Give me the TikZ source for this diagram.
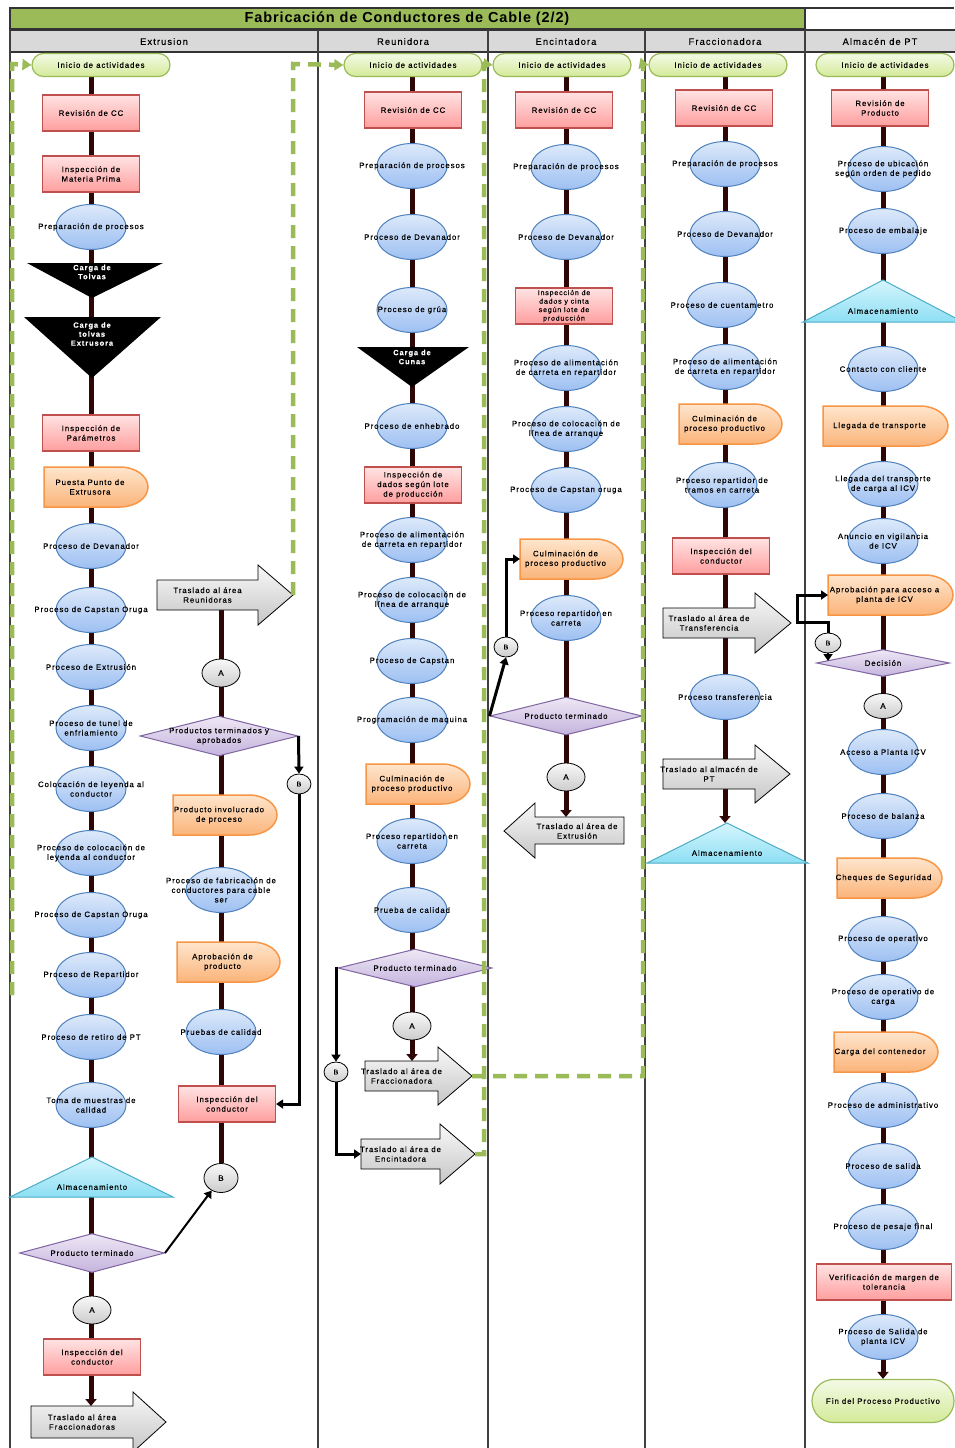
\documentclass[tikz,border=0pt]{standalone}
\usepackage{fontspec}
\setmainfont{Liberation Sans}
\newfontfamily\lsf[LetterSpace=12,FakeBold=0.3]{Liberation Sans}
\newfontfamily\lsft[LetterSpace=6]{Liberation Sans}
\usetikzlibrary{shapes.geometric,shapes.misc,arrows.meta,backgrounds}
\definecolor{grn}{HTML}{9BBB59}
\definecolor{hdr}{HTML}{D9D9D9}
\definecolor{rectB}{HTML}{C0504D}
\definecolor{rectT}{HTML}{FFE3E3}
\definecolor{rectBt}{HTML}{FF9E9E}
\definecolor{ellB}{HTML}{4F81BD}
\definecolor{ellT}{HTML}{DDE9FA}
\definecolor{ellBt}{HTML}{9DC0F2}
\definecolor{orB}{HTML}{F79646}
\definecolor{orT}{HTML}{FEE5CC}
\definecolor{orBt}{HTML}{FBB47A}
\definecolor{dmB}{HTML}{8064A2}
\definecolor{dmT}{HTML}{EEE8F5}
\definecolor{dmBt}{HTML}{C4B3DD}
\definecolor{trB}{HTML}{4BACC6}
\definecolor{trT}{HTML}{D6F5FD}
\definecolor{trBt}{HTML}{8DDFF4}
\definecolor{stT}{HTML}{F4FAE6}
\definecolor{stBt}{HTML}{D3EA98}
\definecolor{spC}{HTML}{2E0606}
\tikzset{
  tfont/.style={font={\lsf\fontsize{7.8}{9.6}\selectfont}, align=center},
  txt/.style={tfont, inner sep=0pt, text=black},
  wtxt/.style={font={\lsf\bfseries\fontsize{7.5}{9}\selectfont}, align=center, inner sep=0pt, text=white},
  rbox/.style={rectangle, tfont, draw=rectB, line width=1.2pt, top color=rectT, bottom color=rectBt, minimum width=97pt, minimum height=36pt, inner sep=1pt},
  pell/.style={ellipse, draw=ellB, line width=1pt, top color=ellT, bottom color=ellBt, minimum width=70pt, minimum height=45pt, inner sep=0pt},
  dly/.style={draw=orB, line width=1.5pt, top color=orT, bottom color=orBt},
  sbox/.style={rounded rectangle, tfont, draw=grn, line width=1.2pt, top color=stT, bottom color=stBt, minimum width=138pt, minimum height=23pt, inner sep=0pt},
  dmd/.style={diamond, draw=dmB, line width=1pt, top color=dmT, bottom color=dmBt, inner sep=0pt},
  cnx/.style={ellipse, draw=black, line width=0.8pt, top color=gray!5, bottom color=gray!40, minimum width=38pt, minimum height=28pt, inner sep=0pt, font={\lsf\fontsize{8}{9}\selectfont}},
  cnxs/.style={cnx, minimum width=24pt, minimum height=20pt, font={\lsf\fontsize{7}{8}\selectfont}},
  spine/.style={draw=spC, line width=5pt},
  spinea/.style={spine, -{Triangle[length=7pt,width=11pt]}},
  flow/.style={draw=black, line width=3pt, -{Triangle[length=7pt,width=9pt]}},
  gdash/.style={draw=grn, line width=4.5pt, dash pattern=on 13pt off 8pt, -{Triangle[length=9pt,width=11pt]}},
  garr/.style={draw=black, line width=0.8pt, top color=gray!5, bottom color=gray!45},
  tri/.style={draw=trB, line width=1pt, top color=trT, bottom color=trBt},
  lane/.style={draw=black!75, line width=1.2pt},
  hfont/.style={font={\lsf\fontsize{9.3}{11}\selectfont}},
}
% ellipse process: name, x, y, text
\newcommand\PE[4]{\node[pell] (#1) at (#2,#3) {}; \node[txt] (#1t) at (#1) {#4};}
% diamond: name, x, y, w, h, text
\newcommand\DM[6]{\node[dmd, minimum width=#4pt, minimum height=#5pt] (#1) at (#2,#3) {}; \node[txt] (#1t) at (#1) {#6};}
% delay shape: name, x left, x right, y centre, text
\newcommand\DL[5]{\path[dly] (#2,#4-20) -- ({#3-28},#4-20) arc[start angle=-90,end angle=90,x radius=28,y radius=20] -- (#2,#4+20) -- cycle;
  \node[txt] (#1) at ({(#2+#3)/2-6},#4) {#5};
  \coordinate (#1w) at (#2,#4);}
% right gray arrow: name, x tail, x head base, x tip, y centre, body half, head half, text
\newcommand\GAR[8]{\path[garr] (#2,#5-#6) -- (#3,#5-#6) -- (#3,#5-#7) -- (#4,#5) -- (#3,#5+#7) -- (#3,#5+#6) -- (#2,#5+#6) -- cycle;
  \node[txt] (#1) at ({(#2+#3)/2},#5) {#8};
  \coordinate (#1tip) at (#4,#5);
  \coordinate (#1w) at (#2,#5);
  \coordinate (#1top) at (#2,#5-#6);
  \coordinate (#1bot) at (#2,#5+#6);}
\begin{document}
\begin{tikzpicture}[x=1pt,y=-1pt]
\useasboundingbox (0,0) rectangle (954,1448);
\begin{scope}[on background layer]
\fill[white] (0,0) rectangle (954,1448);
\end{scope}
% title and headers
\path[fill=grn, draw=black!80, line width=1.2pt] (10,8) rectangle (805,29);
\draw[black!80, line width=1.2pt] (805,8) -- (954,8);
\node[font={\lsft\bfseries\fontsize{14.5}{16}\selectfont}] (title) at (407,18.5) {Fabricación de Conductores de Cable (2/2)};
\path[fill=hdr, draw=black!80, line width=1.2pt] (10,30) rectangle (956,52);
\foreach \lx in {10,318,488,645,805} {\draw[lane] (\lx,30) -- (\lx,1448);}
\node[hfont] (h1) at (164,41.5) {Extrusion};
\node[hfont] (h2) at (403,41.5) {Reunidora};
\node[hfont] (h3) at (566,41.5) {Encintadora};
\node[hfont] (h4) at (725,41.5) {Fraccionadora};
\node[hfont] (h5) at (880,41.5) {Almacén de PT};

% ---------------- Extrusion -----------------
\node[sbox] (x1) at (101,65) {Inicio de actividades};
\node[rbox] (x2) at (91,113) {Revisión de CC};
\node[rbox] (x3) at (91,174) {Inspección de\\Materia Prima};
\PE{x4}{91}{227}{Preparación de procesos}
\path[fill=black] (27,263) -- (163,263) -- (92,298) -- cycle;
\node[wtxt] (x5) at (92,272) {Carga de\\Tolvas};
\path[fill=black] (24,317) -- (161,317) -- (92,378) -- cycle;
\node[wtxt] (x6) at (92,334) {Carga de\\tolvas\\Extrusora};
\node[rbox] (x7) at (91,433) {Inspección de\\Parámetros};
\DL{x8}{44}{148}{487}{Puesta Punto de\\Extrusora}
\PE{x9}{91}{546}{Proceso de Devanador}
\PE{x10}{91}{610}{Proceso de Capstan Oruga}
\PE{x11}{91}{667}{Proceso de Extrusión}
\PE{x12}{91}{728}{Proceso de tunel de\\enfriamiento}
\PE{x13}{91}{789}{Colocación de leyenda al\\conductor}
\PE{x14}{91}{853}{Proceso de colocación de\\leyenda al conductor}
\PE{x15}{91}{915}{Proceso de Capstan Oruga}
\PE{x16}{91}{975}{Proceso de Repartidor}
\PE{x17}{91}{1037}{Proceso de retiro de PT}
\PE{x18}{91}{1105}{Toma de muestras de\\calidad}
\path[tri] (10,1197) -- (173,1197) -- (92,1157) -- cycle;
\node[txt] (x19) at (92,1187) {Almacenamiento};
\DM{x20}{92}{1253}{145}{39}{Producto terminado}
\node[cnx] (x21) at (92,1310) {A};
\node[rbox] (x22) at (92,1357) {Inspección del\\conductor};
\GAR{x23}{31}{133}{166}{1422}{16}{30}{Traslado al área\\Fraccionadoras}

% second column
\GAR{y1}{157}{258}{293}{595}{15}{30}{Traslado al área\\Reunidoras}
\node[cnx] (y2) at (221,673) {A};
\DM{y3}{219}{736}{158}{40}{Productos terminados y\\aprobados}
\DL{y4}{173}{277}{815}{Producto involucrado\\de proceso}
\PE{y5}{221}{890}{Proceso de fabricación de\\conductores para cable\\ser}
\DL{y6}{177}{280}{962}{Aprobación de\\producto}
\PE{y7}{221}{1032}{Pruebas de calidad}
\node[rbox] (y8) at (227,1104) {Inspección del\\conductor};
\node[cnx, minimum width=34pt, minimum height=29pt] (y9) at (221,1178) {B};
\node[cnxs] (y10) at (299,784) {B};

% ---------------- Reunidora -----------------
\node[sbox] (r1) at (413,65) {Inicio de actividades};
\node[rbox] (r2) at (413,110) {Revisión de CC};
\PE{r3}{412}{166}{Preparación de procesos}
\PE{r4}{412}{237}{Proceso de Devanador}
\PE{r5}{412}{310}{Proceso de grúa}
\path[fill=black] (357,347) -- (469,347) -- (412,387) -- cycle;
\node[wtxt] (r6) at (412,357) {Carga de\\Cunas};
\PE{r7}{412}{426}{Proceso de enhebrado}
\node[rbox] (r8) at (413,485) {Inspección de\\dados según lote\\de producción};
\PE{r9}{412}{540}{Proceso de alimentación\\de carreta en repartidor}
\PE{r10}{412}{600}{Proceso de colocación de\\línea de arranque}
\PE{r11}{412}{661}{Proceso de Capstan}
\PE{r12}{412}{720}{Programación de maquina}
\DL{r13}{366}{470}{784}{Culminación de\\proceso productivo}
\PE{r14}{412}{841}{Proceso repartidor en\\carreta}
\PE{r15}{412}{910}{Prueba de calidad}
\DM{r16}{415}{968}{154}{38}{Producto terminado}
\node[cnx] (r17) at (412,1026) {A};
\GAR{r18}{365}{438}{472}{1076}{15}{29}{Traslado al área de\\Fraccionadora}
\node[cnxs] (r19) at (336,1072) {B};
\GAR{r20}{361}{440}{475}{1154}{15}{30}{Traslado al área de\\Encintadora}

% ---------------- Encintadora -----------------
\node[sbox] (c1) at (562,65) {Inicio de actividades};
\node[rbox] (c2) at (564,110) {Revisión de CC};
\PE{c3}{566}{167}{Preparación de procesos}
\PE{c4}{566}{237}{Proceso de Devanador}
\node[rbox, font={\lsf\fontsize{7}{8.5}\selectfont}] (c5) at (564,306) {Inspección de\\dados y cinta\\según lote de\\producción};
\PE{c6}{566}{368}{Proceso de alimentación\\de carreta en repartidor}
\PE{c7}{566}{429}{Proceso de colocación de\\línea de arranque}
\PE{c8}{566}{490}{Proceso de Capstan oruga}
\DL{c9}{520}{623}{559}{Culminación de\\proceso productivo}
\PE{c10}{566}{618}{Proceso repartidor en\\carreta}
\node[cnxs] (c11) at (506,647) {B};
\DM{c12}{566}{716}{152}{38}{Producto terminado}
\node[cnx] (c13) at (566,777) {A};
\path[garr] (624,817) -- (535,817) -- (535,803) -- (504,831) -- (535,858) -- (535,844) -- (624,844) -- cycle;
\node[txt] (c14) at (577,831) {Traslado al área de\\Extrusión};
\coordinate (c14top) at (566,817);

% ---------------- Fraccionadora -----------------
\node[sbox] (f1) at (718,65) {Inicio de actividades};
\node[rbox] (f2) at (724,108) {Revisión de CC};
\PE{f3}{725}{164}{Preparación de procesos}
\PE{f4}{725}{234}{Proceso de Devanador}
\PE{f5}{722}{305}{Proceso de cuentametro}
\PE{f6}{725}{367}{Proceso de alimentación\\de carreta en repartidor}
\DL{f7}{679}{782}{424}{Culminación de\\proceso productivo}
\PE{f8}{722}{485}{Proceso repartidor de\\tramos en carreta}
\node[rbox] (f9) at (721,556) {Inspección del\\conductor};
\GAR{f10}{663}{755}{791}{623}{15}{30}{Traslado al área de\\Transferencia}
\PE{f11}{725}{697}{Proceso transferencia}
\GAR{f12}{663}{755}{790}{774}{15}{29}{Traslado al almacén de\\PT}
\path[tri] (647,863) -- (808,863) -- (727,823) -- cycle;
\node[txt] (f13) at (727,853) {Almacenamiento};
\coordinate (f13top) at (727,823);

% ---------------- Almacen de PT -----------------
\node[sbox] (a1) at (885,65) {Inicio de actividades};
\node[rbox] (a2) at (880,108) {Revisión de\\Producto};
\PE{a3}{883}{169}{Proceso de ubicación\\según orden de pedido}
\PE{a4}{883}{231}{Proceso de embalaje}
\path[tri] (803,322) -- (963,322) -- (883,280) -- cycle;
\node[txt] (a5) at (883,311) {Almacenamiento};
\PE{a6}{883}{369}{Contacto con cliente}
\DL{a7}{823}{948}{426}{Llegada de transporte}
\PE{a8}{883}{484}{Llegada del transporte\\de carga al ICV}
\PE{a9}{883}{541}{Anuncio en vigilancia\\de ICV}
\DL{a10}{828}{953}{595}{Aprobación para acceso a\\planta de ICV}
\node[cnxs, minimum width=26pt] (a11) at (828,643) {B};
\DM{a12}{883}{663}{133}{27}{Decisión}
\coordinate (a12p) at (828,661);
\node[cnx, minimum height=25pt] (a13) at (883,706) {A};
\PE{a14}{883}{752}{Acceso a Planta ICV}
\PE{a15}{883}{816}{Proceso de balanza}
\DL{a16}{837}{942}{878}{Cheques de Seguridad}
\PE{a17}{883}{939}{Proceso de operativo}
\PE{a18}{883}{997}{Proceso de operativo de\\carga}
\DL{a19}{834}{938}{1052}{Carga del contenedor}
\PE{a20}{883}{1105}{Proceso de administrativo}
\PE{a21}{883}{1166}{Proceso de salida}
\PE{a22}{883}{1227}{Proceso de pesaje final}
\node[rbox, minimum width=135pt] (a23) at (884,1282) {Verificación de margen de\\tolerancia};
\PE{a24}{883}{1337}{Proceso de Salida de\\planta ICV}
\node[sbox, minimum width=142pt, minimum height=43pt] (a25) at (883,1401) {Fin del Proceso Productivo};

% ---------------- spines (behind) -----------------
\begin{scope}[on background layer]
\draw[spinea] (x1.south -| x9) -- (x9 |- x23top);
\draw[spine] (y2 |- y1bot) -- (y9);
\draw[spinea] (r1.south -| r3) -- (r3 |- r18top);
\draw[spinea] (c1.south -| c3) -- (c14top);
\draw[spinea] (f1.south -| f3) -- (f3 |- f13top);
\draw[spinea] (a1.south -| a3) -- (a25.north);
\end{scope}

% ---------------- black connectors -----------------
\draw[flow] (y3.east) -- (y10.north);
\draw[flow] (y10.south) |- (y8.east);
\draw[flow, line width=2pt] (x20.east) -- (y9);
\draw[flow] (r16.west) -| (r19.north);
\draw[flow] (r19.south) |- (r20w);
\draw[flow] (c12.west) -- (c11.south);
\draw[flow] (c11.north) |- (c9w);
\draw[flow] (a11.north) |- (797,622) |- (a10w);
\draw[flow, line width=2pt] (a11.south) -- (a12p);

% ---------------- green dashed links -----------------
\draw[gdash] (12,995) -- (12,64) -- (x1.west);
\draw[gdash] (y1tip) -- (293,64) -- (r1.west);
\draw[gdash] (r20tip) -- (484,1154) -- (484,64) -- (c1.west);
\draw[gdash] (r18tip) -- (643,1076) -- (643,64) -- (f1.west);
\end{tikzpicture}
\end{document}
